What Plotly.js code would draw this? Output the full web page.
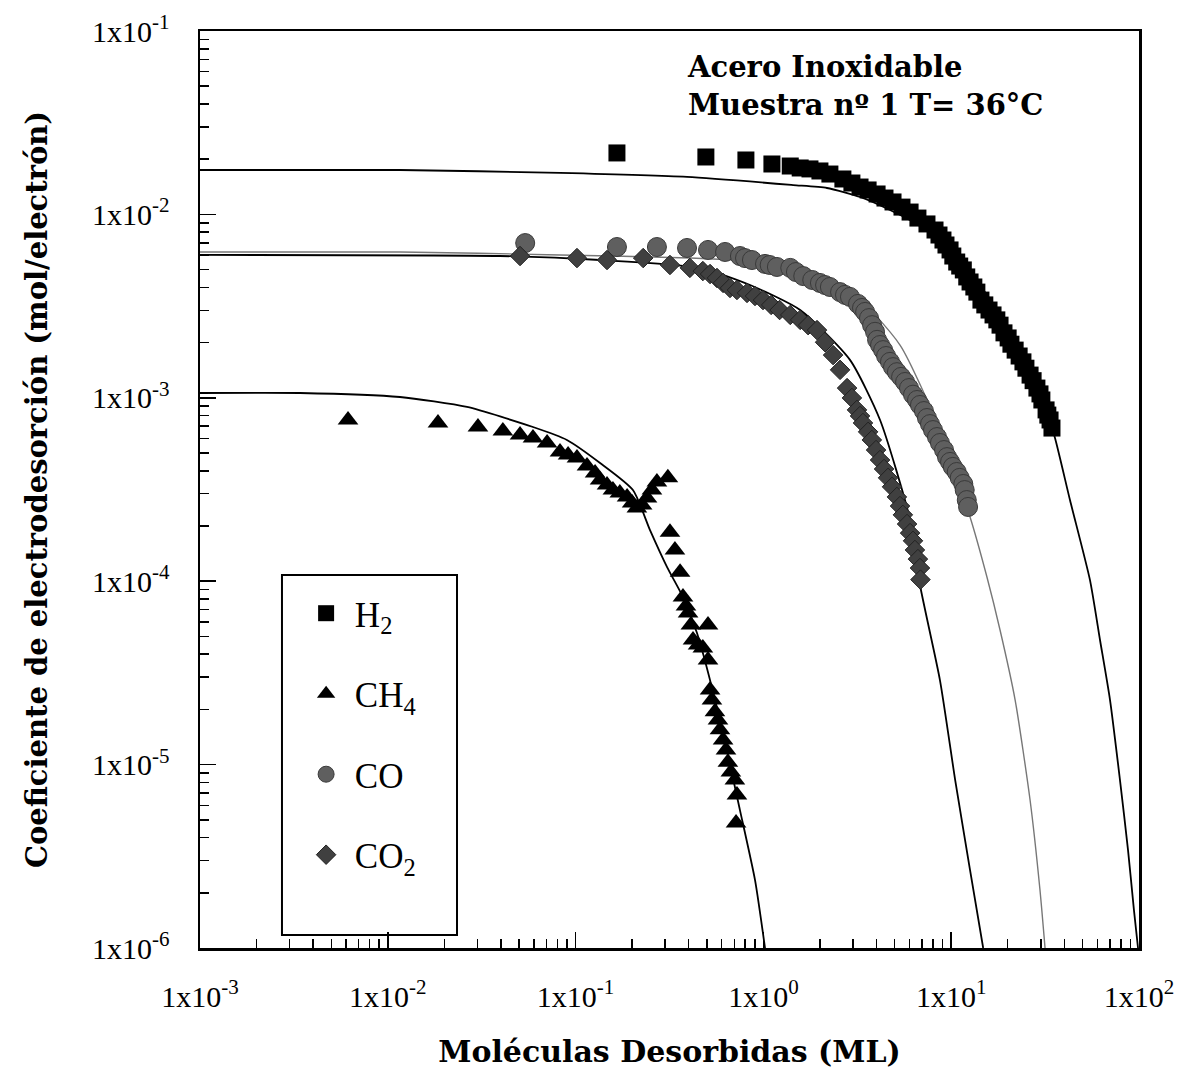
<!DOCTYPE html>
<html>
<head>
<meta charset="utf-8">
<script src="https://cdn.plot.ly/plotly-3.0.1.min.js"></script>
<style>html,body{margin:0;padding:0;background:#fff;}#chart{width:1186px;height:1081px;}</style>
</head>
<body>
<div id="chart"></div>
<script>
// ---- data: H2 (squares)
const h2X = [0.166,0.494,0.807,1.11,1.39,1.57,1.77,2.00,2.26,2.65,2.96,3.27,3.61,4.03,4.44,4.90,5.47,6.04,6.65,7.43,8.20,8.61,9.04,9.38,9.86,10.2,10.7,11.1,11.6,12.1,12.6,13.2,13.7,14.4,15.1,15.9,16.7,17.5,18.2,19.1,20.1,20.8,21.9,23.0,24.1,25.0,26.3,27.3,28.6,29.7,30.4,32.0,32.7,33.6,34.4];
const h2Y = [0.02163,0.02056,0.01980,0.01883,0.01836,0.01791,0.01770,0.01725,0.01660,0.01560,0.01483,0.01410,0.01359,0.01292,0.01228,0.01169,0.01096,0.01030,0.00955,0.00887,0.00822,0.00772,0.00725,0.00681,0.00640,0.00593,0.00550,0.00523,0.00498,0.00456,0.00428,0.00402,0.00377,0.00341,0.00321,0.00301,0.00283,0.00266,0.00249,0.00226,0.00212,0.00196,0.00182,0.00169,0.00157,0.00145,0.00133,0.00124,0.00113,0.00105,0.000973,0.000859,0.000805,0.000757,0.000684];
// ---- data: CH4 (triangles)
const ch4X = [0.00614,0.0185,0.0302,0.0410,0.0506,0.0593,0.0705,0.0826,0.0912,0.1017,0.115,0.127,0.135,0.147,0.158,0.172,0.188,0.200,0.212,0.226,0.240,0.255,0.271,0.310,0.318,0.338,0.360,0.373,0.387,0.397,0.411,0.422,0.449,0.476,0.507,0.507,0.520,0.532,0.552,0.573,0.587,0.610,0.632,0.647,0.671,0.705,0.723,0.715];
const ch4Y = [0.000757,0.000729,0.000693,0.000659,0.000627,0.000604,0.000567,0.000506,0.000488,0.000470,0.000425,0.000389,0.000356,0.000335,0.000314,0.000303,0.000288,0.000267,0.000251,0.000260,0.000284,0.000314,0.000347,0.000366,0.000185,0.000148,0.000112,8.20e-5,7.32e-5,6.71e-5,5.77e-5,4.78e-5,4.49e-5,4.32e-5,5.77e-5,3.72e-5,2.55e-5,2.25e-5,1.94e-5,1.75e-5,1.55e-5,1.36e-5,1.20e-5,1.03e-5,9.12e-6,8.24e-6,6.83e-6,4.81e-6];
// ---- data: CO (circles)
const coX = [0.0539,0.166,0.271,0.392,0.507,0.625,0.750,0.798,0.869,1.02,1.08,1.18,1.39,1.49,1.63,1.82,2.00,2.13,2.26,2.56,2.72,2.89,3.19,3.35,3.48,3.65,3.79,3.93,4.03,4.18,4.34,4.50,4.72,4.90,5.14,5.41,5.68,5.96,6.26,6.58,6.82,7.16,7.43,7.71,8.00,8.40,8.71,9.16,9.50,9.86,10.2,10.7,11.1,11.6,11.8,12.1,12.3];
const coY = [0.00698,0.00664,0.00664,0.00656,0.00640,0.00624,0.00593,0.00578,0.00564,0.00537,0.00530,0.00517,0.00511,0.00485,0.00461,0.00439,0.00423,0.00412,0.00402,0.00377,0.00364,0.00355,0.00325,0.00309,0.00294,0.00272,0.00249,0.00229,0.00207,0.00194,0.00182,0.00169,0.00157,0.00147,0.00138,0.00130,0.00122,0.00113,0.00104,0.000973,0.000914,0.000847,0.000776,0.000719,0.000667,0.000611,0.000567,0.000519,0.000475,0.000447,0.000420,0.000394,0.000366,0.000339,0.000314,0.000277,0.000254];
// ---- data: CO2 (diamonds)
const co2X = [0.0506,0.1017,0.147,0.229,0.318,0.406,0.476,0.520,0.566,0.610,0.664,0.723,0.818,0.902,0.995,1.10,1.22,1.39,1.57,1.73,1.93,2.13,2.35,2.56,2.79,2.96,3.15,3.27,3.39,3.61,3.78,3.98,4.18,4.39,4.61,4.84,5.14,5.34,5.53,5.82,6.04,6.26,6.41,6.65,6.82,6.86];
const co2Y = [0.00593,0.00578,0.00564,0.00578,0.00530,0.00511,0.00491,0.00473,0.00450,0.00423,0.00397,0.00387,0.00373,0.00359,0.00341,0.00321,0.00301,0.00283,0.00266,0.00249,0.00234,0.00201,0.00171,0.00142,0.00113,0.000998,0.000859,0.000796,0.000729,0.000652,0.000589,0.000519,0.000458,0.000409,0.000366,0.000327,0.000288,0.000257,0.000230,0.000205,0.000183,0.000166,0.000148,0.000132,0.000118,0.000102];
// ---- fitted curves
const fitH2X = [0.001,0.01161,0.0826,0.392,1.44,2.18,3.27,4.72,6.82,9.86,14.2,20.6,29.7,35.7,42.9,54.8,62.0,70.1,79.2,87.4,94.0,98.8];
const fitH2Y = [0.01746,0.01746,0.01683,0.01600,0.01446,0.01393,0.01245,0.01057,0.00865,0.00640,0.00412,0.00234,0.001104,0.000604,0.000277,0.0001016,4.78e-5,2.25e-5,8.24e-6,3.42e-6,1.61e-6,1.0e-6];
const fitCOX = [0.001,0.01161,0.0826,0.406,0.959,1.57,2.89,5.34,8.71,12.6,15.5,18.2,21.9,26.3,29.7,31.6];
const fitCOY = [0.00624,0.00624,0.00601,0.00578,0.00550,0.00511,0.00387,0.00194,0.000667,0.000224,0.0001054,5.42e-5,2.25e-5,6.41e-6,2.07e-6,1.0e-6];
const fitCO2X = [0.001,0.0395,0.135,0.459,0.849,1.57,2.89,4.18,6.04,6.82,8.71,10.5,12.6,14.8];
const fitCO2Y = [0.00601,0.00593,0.00564,0.00511,0.00412,0.00301,0.00161,0.000757,0.000216,9.53e-5,2.89e-5,8.24e-6,2.66e-6,1.0e-6];
const fitCH4X = [0.001,0.00341,0.01161,0.0264,0.0593,0.0899,0.135,0.202,0.249,0.307,0.373,0.443,0.587,0.750,0.902,1.02];
const fitCH4Y = [0.001062,0.001062,0.001010,0.000891,0.000693,0.000589,0.000441,0.000314,0.000190,0.0001194,8.20e-5,5.22e-5,1.75e-5,5.65e-6,2.35e-6,1.0e-6];
// ---- ticks
const xTickVals = [1e-3,1e-2,1e-1,1e0,1e1,1e2];
const xTickText = ['1x10<sup>-3</sup>','1x10<sup>-2</sup>','1x10<sup>-1</sup>','1x10<sup>0</sup>','1x10<sup>1</sup>','1x10<sup>2</sup>'];
const yTickVals = [1e-6,1e-5,1e-4,1e-3,1e-2,1e-1];
const yTickText = ['1x10<sup>-6</sup>','1x10<sup>-5</sup>','1x10<sup>-4</sup>','1x10<sup>-3</sup>','1x10<sup>-2</sup>','1x10<sup>-1</sup>'];

function minorVals(e0, e1){
  const v=[];
  for(let e=e0;e<e1;e++){for(let m=2;m<=9;m++){v.push(m*Math.pow(10,e));}}
  return v;
}

const serif = 'Liberation Serif, serif';
const boldSerif = 'DejaVu Serif, serif';
const lineTrace = (x,y,color,w)=>({x:x,y:y,mode:'lines',type:'scatter',line:{color:color,width:w,shape:'spline',smoothing:0.6},showlegend:false,hoverinfo:'skip'});

const traces = [
  lineTrace(fitH2X,fitH2Y,'#000',1.8),
  lineTrace(fitCOX,fitCOY,'#777',1.4),
  lineTrace(fitCO2X,fitCO2Y,'#000',1.8),
  lineTrace(fitCH4X,fitCH4Y,'#000',1.8),
  {x:h2X,y:h2Y,mode:'markers',type:'scatter',name:'\u00A0H<sub>2</sub>',legendgroup:'a',
   marker:{symbol:'square',size:17,color:'#000'}},
  {x:ch4X,y:ch4Y,mode:'markers',type:'scatter',name:'\u00A0CH<sub>4</sub>',legendgroup:'b',
   marker:{symbol:'triangle-up',size:18,color:'#000'}},
  {x:coX,y:coY,mode:'markers',type:'scatter',name:'\u00A0CO',legendgroup:'c',
   marker:{symbol:'circle',size:19,color:'#5f5f5f',line:{color:'#3a3a3a',width:1}}},
  {x:co2X,y:co2Y,mode:'markers',type:'scatter',name:'\u00A0CO<sub>2</sub>',legendgroup:'d',
   marker:{symbol:'diamond',size:15,color:'#404040',line:{color:'#222',width:1}}}
];

const layout = {
  width:1186, height:1081,
  margin:{l:200,r:47,t:31,b:133},
  paper_bgcolor:'#fff', plot_bgcolor:'#fff',
  font:{family:serif,color:'#000',size:22},
  xaxis:{type:'log',range:[-3,2],tickmode:'array',tickvals:xTickVals,ticktext:xTickText,
    ticks:'inside',ticklen:16,tickwidth:1.5,tickcolor:'#000',showgrid:false,zeroline:false,
    showline:true,linecolor:'#000',linewidth:2.5,mirror:true,ticklabelstandoff:20,
    tickfont:{family:serif,size:30},
    minor:{tickmode:'array',tickvals:minorVals(-3,2),ticks:'inside',ticklen:9,tickwidth:1.5,tickcolor:'#000',showgrid:false},
    title:{text:'<b>Moléculas Desorbidas (ML)</b>',font:{family:boldSerif,size:30},standoff:30}},
  yaxis:{type:'log',range:[-6,-1],tickmode:'array',tickvals:yTickVals,ticktext:yTickText,
    ticks:'inside',ticklen:16,tickwidth:1.5,tickcolor:'#000',showgrid:false,zeroline:false,
    showline:true,linecolor:'#000',linewidth:2.5,mirror:true,ticklabelstandoff:22,
    tickfont:{family:serif,size:30},
    minor:{tickmode:'array',tickvals:minorVals(-6,-1),ticks:'inside',ticklen:9,tickwidth:1.5,tickcolor:'#000',showgrid:false},
    title:{text:'<b>Coeficiente de electrodesorción (mol/electrón)</b>',font:{family:boldSerif,size:29},standoff:36}},
  showlegend:true,
  legend:{x:0.113,y:0.397,xanchor:'left',yanchor:'top',bgcolor:'rgba(0,0,0,0)',borderwidth:0,
    traceorder:'grouped',tracegroupgap:32,font:{family:serif,size:35,color:'#000'}},
  shapes:[{type:'rect',xref:'paper',yref:'paper',x0:0.0873,x1:0.2737,y0:0.0142,y1:0.4068,
    line:{color:'#000',width:2},fillcolor:'rgba(0,0,0,0)',layer:'below'}],
  annotations:[{xref:'paper',yref:'paper',x:0.516,y:0.981,xanchor:'left',yanchor:'top',align:'left',showarrow:false,
    text:'<b>Acero Inoxidable<br>Muestra nº 1 T= 36°C</b>',font:{family:boldSerif,size:29,color:'#000'}}]
};

Plotly.newPlot('chart',traces,layout,{displayModeBar:false,staticPlot:true});
</script>
</body>
</html>
